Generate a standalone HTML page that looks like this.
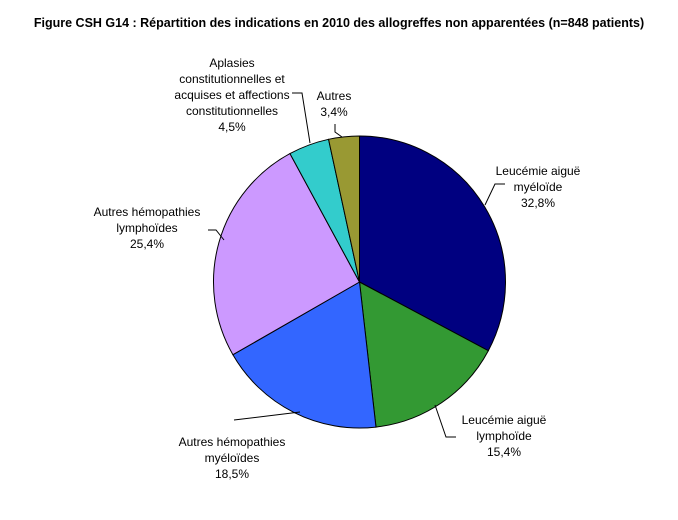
<!DOCTYPE html>
<html><head><meta charset="utf-8"><style>
body{margin:0;background:#fff;}
svg{display:block;font-family:"Liberation Sans",Arial,sans-serif;}
</style></head><body>
<svg width="678" height="520">
<rect width="678" height="520" fill="#fff"/>
<text x="339" y="27" text-anchor="middle" font-size="12.5" font-weight="bold">Figure CSH G14 : Répartition des indications en 2010 des allogreffes non apparentées (n=848 patients)</text>
<g id="slices"></g>
<g id="leaders" stroke="#000" fill="none" stroke-width="1">
<polyline points="485,205 495,184 505,184"/>
<polyline points="435,405 446,437 456,437"/>
<polyline points="300,412 234,420"/>
<polyline points="208,230 216,230 224,240"/>
<polyline points="292,93 302,93 310,143"/>
<polyline points="335,124 335,132 342,137"/>
</g>
<g font-size="12" text-anchor="middle" fill="#000">
<text><tspan x="538" y="175">Leucémie aiguë</tspan><tspan x="538" y="191">myéloïde</tspan><tspan x="538" y="207">32,8%</tspan></text>
<text><tspan x="504" y="424">Leucémie aiguë</tspan><tspan x="504" y="440">lymphoïde</tspan><tspan x="504" y="456">15,4%</tspan></text>
<text><tspan x="232" y="446">Autres hémopathies</tspan><tspan x="232" y="462">myéloïdes</tspan><tspan x="232" y="478">18,5%</tspan></text>
<text><tspan x="147" y="216">Autres hémopathies</tspan><tspan x="147" y="232">lymphoïdes</tspan><tspan x="147" y="248">25,4%</tspan></text>
<text><tspan x="232" y="67">Aplasies</tspan><tspan x="232" y="83">constitutionnelles et</tspan><tspan x="232" y="99">acquises et affections</tspan><tspan x="232" y="115">constitutionnelles</tspan><tspan x="232" y="131">4,5%</tspan></text>
<text><tspan x="334" y="100">Autres</tspan><tspan x="334" y="116">3,4%</tspan></text>
</g>
</svg>
<script>
const categories=["Leucémie aiguë myéloïde","Leucémie aiguë lymphoïde","Autres hémopathies myéloïdes","Autres hémopathies lymphoïdes","Aplasies","Autres"];
const values=[32.8,15.4,18.5,25.4,4.5,3.4];
const colors=["#000080","#339933","#3366FF","#CC99FF","#33CCCC","#999933"];
const cx=359.5,cy=282,r=146;
const g=document.getElementById('slices');
const total=values.reduce((a,b)=>a+b,0);
let a0=-Math.PI/2;
values.forEach((v,i)=>{
  const a1=a0+v/total*2*Math.PI;
  const x0=cx+r*Math.cos(a0),y0=cy+r*Math.sin(a0),x1=cx+r*Math.cos(a1),y1=cy+r*Math.sin(a1);
  const large=(a1-a0)>Math.PI?1:0;
  const p=document.createElementNS('http://www.w3.org/2000/svg','path');
  p.setAttribute('d',`M${cx},${cy} L${x0},${y0} A${r},${r} 0 ${large} 1 ${x1},${y1} Z`);
  p.setAttribute('fill',colors[i]);p.setAttribute('stroke','#000');p.setAttribute('stroke-width','1');
  
  
  g.appendChild(p);
  a0=a1;
});
</script>
</body></html>
